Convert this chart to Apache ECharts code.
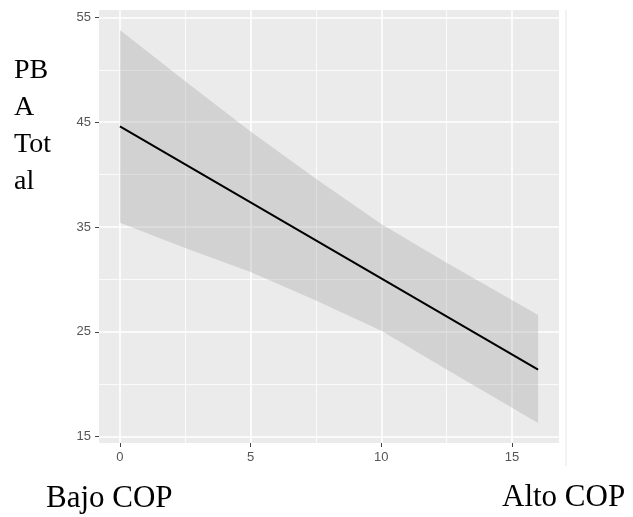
<!DOCTYPE html>
<html>
<head>
<meta charset="utf-8">
<script src="https://cdn.jsdelivr.net/npm/echarts@6/dist/echarts.min.js"></script>
<style>
  html, body { margin: 0; padding: 0; background: #fff; }
  #chart { width: 633px; height: 517px; }
</style>
</head>
<body>
<div id="chart"></div>
<script>
// valores
var bandX = [0, 2.5, 5, 7.5, 10, 12.5, 16];
var bandUpper = [53.8, 48.9, 44.1, 39.6, 35.3, 31.6, 26.6];
var bandLower = [35.4, 33.0, 30.7, 28.0, 25.1, 21.4, 16.3];
var fitX = [0, 16];
var fitY = [44.6, 21.4];
var xTicks = [0, 5, 10, 15];
var xMinor = [2.5, 7.5, 12.5];
var yTicks = [15, 25, 35, 45, 55];
var yMinor = [20, 30, 40, 50];

var myChart = echarts.init(document.getElementById('chart'));

var bandData = bandX.map(function (x, i) { return [x, bandLower[i], bandUpper[i]]; });
var fitData = fitX.map(function (x, i) { return [x, fitY[i]]; });

var tickLabel = { color: '#555', fontSize: 13, fontFamily: 'Liberation Sans' };

// banda de confianza: un solo polígono (arriba + abajo invertido)
function renderBand(params, api) {
    if (params.dataIndex !== 0) return;
    var pts = [];
    for (var i = 0; i < bandData.length; i++) {
        pts.push(api.coord([bandData[i][0], bandData[i][2]]));
    }
    for (var j = bandData.length - 1; j >= 0; j--) {
        pts.push(api.coord([bandData[j][0], bandData[j][1]]));
    }
    return {
        type: 'polygon',
        shape: { points: pts },
        style: { fill: 'rgba(153,153,153,0.3)' },
        silent: true
    };
}

option = {
    animation: false,
    grid: {
        left: 99, top: 10, width: 460, height: 433,
        show: true, backgroundColor: '#EBEBEB', borderWidth: 0
    },
    xAxis: [{
        type: 'value', min: -0.8, max: 16.8, position: 'bottom',
        axisLine: { show: false, onZero: false },
        axisTick: { show: true, customValues: xTicks, length: 4, lineStyle: { color: '#444' } },
        axisLabel: Object.assign({ customValues: xTicks, margin: 8 }, tickLabel),
        splitLine: { show: true, lineStyle: { color: '#fff', width: 1.6 } }
    }, {
        // líneas menores
        type: 'value', min: -0.8, max: 16.8, position: 'top',
        axisLine: { show: false, onZero: false },
        axisTick: { show: false, customValues: xMinor },
        axisLabel: { show: false },
        splitLine: { show: true, lineStyle: { color: '#fff', width: 0.8 } }
    }],
    yAxis: [{
        type: 'value', min: 14.4, max: 55.7, position: 'left',
        axisLine: { show: false, onZero: false },
        axisTick: { show: true, customValues: yTicks, length: 4, lineStyle: { color: '#444' } },
        axisLabel: Object.assign({ customValues: yTicks, margin: 8 }, tickLabel),
        splitLine: { show: true, lineStyle: { color: '#fff', width: 1.6 } }
    }, {
        type: 'value', min: 14.4, max: 55.7, position: 'right',
        axisLine: { show: false, onZero: false },
        axisTick: { show: false, customValues: yMinor },
        axisLabel: { show: false },
        splitLine: { show: true, lineStyle: { color: '#fff', width: 0.8 } }
    }],
    series: [{
        type: 'custom', data: bandData, renderItem: renderBand,
        encode: { x: 0, y: [1, 2] }, silent: true, z: 2
    }, {
        type: 'line', data: fitData, symbol: 'none', z: 5,
        lineStyle: { color: '#000', width: 2 }
    }],
    graphic: [{
        type: 'line', silent: true,
        shape: { x1: 566, y1: 10, x2: 566, y2: 466 },
        style: { stroke: '#e6e6e6', lineWidth: 1 }
    }, {
        type: 'text', left: 14, top: 52,
        style: {
            text: 'PB\nA\nTot\nal', fill: '#000',
            font: '28px "Liberation Serif"', lineHeight: 37
        }
    }, {
        type: 'text', x: 46, y: 499,
        style: { text: 'Bajo COP', fill: '#000', font: '31px "Liberation Serif"', verticalAlign: 'middle' }
    }, {
        type: 'text', x: 502, y: 498,
        style: { text: 'Alto COP', fill: '#000', font: '31px "Liberation Serif"', verticalAlign: 'middle' }
    }]
};
myChart.setOption(option);
</script>
</body>
</html>
